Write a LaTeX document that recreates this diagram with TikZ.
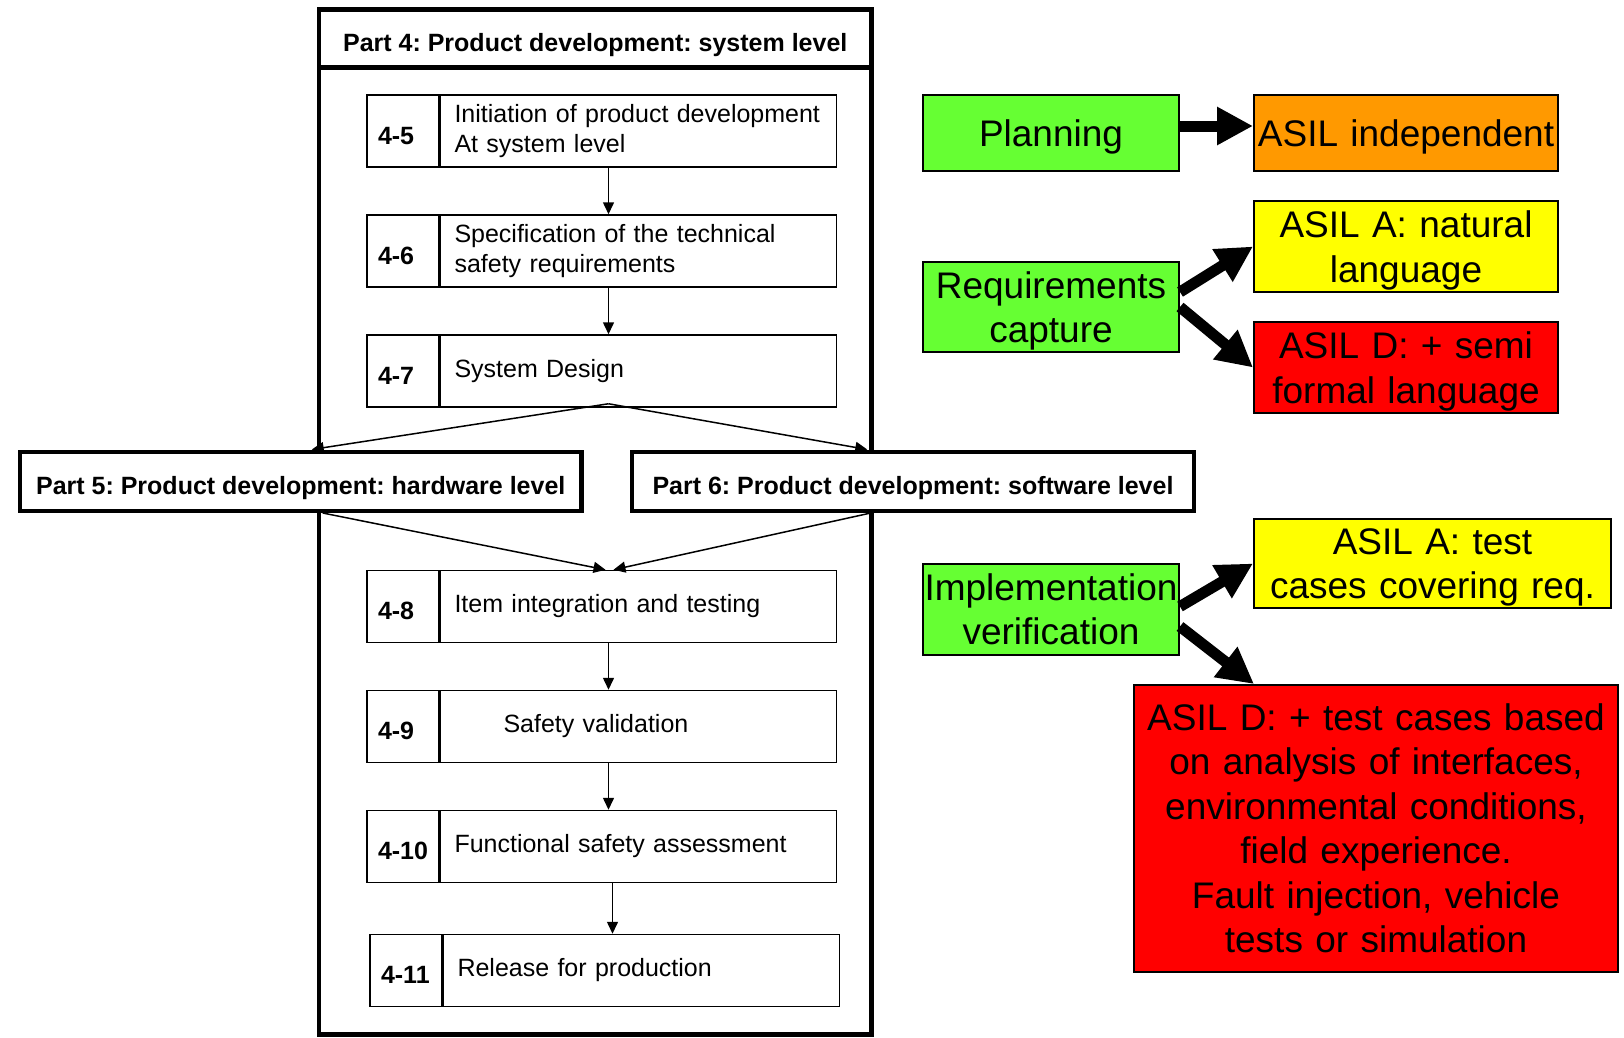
\documentclass[tikz,border=0pt]{standalone}
\usepackage{fontspec}
\setmainfont{Liberation Sans}
\frenchspacing
\exhyphenpenalty=10000
\usetikzlibrary{arrows.meta}
\definecolor{planGreen}{RGB}{102,255,51}
\definecolor{asilOrange}{RGB}{255,153,0}
\definecolor{asilYellow}{RGB}{255,255,0}
\definecolor{asilRed}{RGB}{255,0,0}
% last line without descender depth
\newcommand{\nodesc}[1]{\raisebox{0pt}[\height][0pt]{#1}}
\begin{document}
\begin{tikzpicture}[x=1pt,y=-1pt,
	numcell/.style={draw,line width=1.5pt,minimum width=72pt,minimum height=72pt,inner xsep=11pt,inner ysep=0pt,text width=50pt,align=left,text height=26pt,text depth=0pt,font=\fontsize{25}{30}\selectfont\bfseries},
	textcell/.style={draw,line width=1.5pt,anchor=west,minimum height=72pt,text width=368pt,inner xsep=14pt,inner ysep=0pt,align=left,font=\fontsize{25}{30}\selectfont},
	partbox/.style={draw,line width=4.5pt,fill=white,inner sep=0pt,text height=31pt,text depth=5pt,font=\fontsize{25}{30}\selectfont\bfseries},
	flow/.style={line width=1.5pt,-{Triangle[length=12pt,width=11pt]}},
	asilbox/.style={draw,line width=2pt,inner sep=1pt,align=center,font=\fontsize{37}{44.5}\selectfont},
	bigarrow/.style={line width=11pt,-{Triangle[length=36pt,width=36pt]}}]
	\useasboundingbox (0,0) rectangle (1624,1037);
	% part 4 frame
	\node[partbox,fill=none,minimum width=552.5pt,minimum height=1025pt] (part4) at (595.25,522) {};
	\node[partbox,minimum width=552.5pt,minimum height=58pt] (part4head) at (595.25,38.5) {Part 4: Product development: system level};
	% steps
	\node[numcell] (n45) at (403,131) {4-5};
	\node[textcell] (t45) at (n45.east) {Initiation of product development\\At system level};
	\node[numcell] (n46) at (403,251) {4-6};
	\node[textcell] (t46) at (n46.east) {Specification of the technical\\safety requirements};
	\node[numcell] (n47) at (403,371) {4-7};
	\node[textcell] (t47) at (n47.east) {System Design};
	\node[numcell] (n48) at (403,606.5) {4-8};
	\node[textcell] (t48) at (n48.east) {Item integration and testing};
	\node[numcell] (n49) at (403,726.5) {4-9};
	\node[textcell] (t49) at (n49.east) {\hspace*{49pt}Safety validation};
	\node[numcell] (n410) at (403,846.5) {4-10};
	\node[textcell] (t410) at (n410.east) {Functional safety assessment};
	\node[numcell] (n411) at (406,970.5) {4-11};
	\node[textcell] (t411) at (n411.east) {Release for production};
	\draw[flow] ([xshift=-30pt]t45.south) -- ([xshift=-30pt]t46.north);
	\draw[flow] ([xshift=-30pt]t46.south) -- ([xshift=-30pt]t47.north);
	\draw[flow] ([xshift=-30pt]t48.south) -- ([xshift=-30pt]t49.north);
	\draw[flow] ([xshift=-30pt]t49.south) -- ([xshift=-30pt]t410.north);
	\draw[flow] ([xshift=-26pt]t410.south) -- ([xshift=-29pt]t411.north);
	% parts 5 and 6
	\node[partbox,minimum width=561.5pt,minimum height=59pt] (part5) at (300.75,481.25) {Part 5: Product development: hardware level};
	\node[partbox,minimum width=562pt,minimum height=59pt] (part6) at (913,481.25) {Part 6: Product development: software level};
	\coordinate (split) at ([xshift=-30pt,yshift=4pt]t47.south);
	\coordinate (p5in) at (part4.west |- part5.north);
	\coordinate (p6in) at (part4.east |- part6.north);
	\coordinate (p5out) at (part4.west |- part5.south);
	\coordinate (p6out) at (part4.east |- part6.south);
	\draw[flow] (split) -- ([xshift=-5pt]p5in);
	\draw[flow] (split) -- ([xshift=-6.5pt]p6in);
	\draw[flow] ([xshift=6pt]p5out) -- ([xshift=-33pt]t48.north);
	\draw[flow] ([xshift=-3pt]p6out) -- ([xshift=-25pt]t48.north);
	% ASIL side
	\node[asilbox,fill=planGreen,text width=254pt,minimum height=76pt] (plan) at (1051,133) {\nodesc{Planning}};
	\node[asilbox,fill=asilOrange,text width=302pt,minimum height=76pt] (indep) at (1406,133) {\nodesc{ASIL independent}};
	\node[asilbox,fill=planGreen,text width=254pt,minimum height=90pt] (req) at (1051,307) {Requirements\\\nodesc{capture}};
	\node[asilbox,fill=asilYellow,text width=302pt,minimum height=91pt] (natural) at (1406,246.5) {ASIL A: natural\\\nodesc{language}};
	\node[asilbox,fill=asilRed,text width=302pt,minimum height=91pt] (semi) at (1406,367.5) {ASIL D: + semi\\\nodesc{formal language}};
	\node[asilbox,fill=planGreen,text width=254pt,minimum height=91pt] (impl) at (1051,609.5) {Implementation\\verification};
	\node[asilbox,fill=asilYellow,text width=355pt,minimum height=89pt] (testA) at (1432.5,563.5) {ASIL A: test\\\nodesc{cases covering req.}};
	\node[asilbox,fill=asilRed,text width=482pt,minimum height=287pt] (testD) at (1376,828.5) {ASIL D: + test cases based\\on analysis of interfaces,\\environmental conditions,\\field experience.\\Fault injection, vehicle\\tests or simulation};
	\draw[bigarrow] ([yshift=7pt]plan.east) -- ([yshift=7pt]indep.west);
	\draw[bigarrow] ([yshift=15pt]req.east) -- (natural.west);
	\draw[bigarrow] (req.east) -- (semi.west);
	\draw[bigarrow] ([yshift=3pt]impl.east) -- (testA.west);
	\draw[bigarrow] ([yshift=-17pt]impl.east) -- ([xshift=121pt]testD.north west);
\end{tikzpicture}
\end{document}
